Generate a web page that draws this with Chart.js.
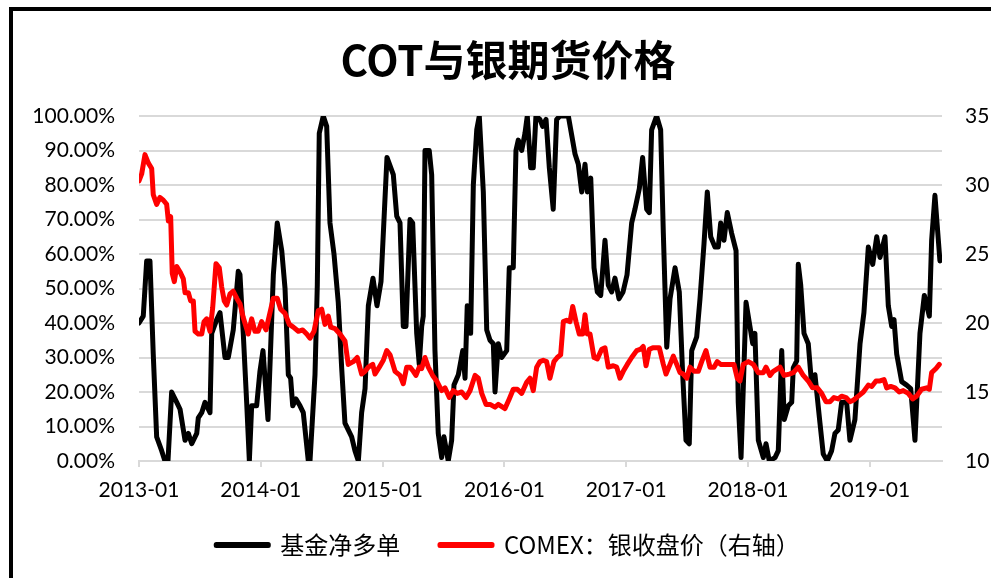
<!DOCTYPE html>
<html lang="zh">
<head>
<meta charset="UTF-8">
<title>COT与银期货价格</title>
<script src="https://cdn.jsdelivr.net/npm/chart.js@4.4.3/dist/chart.umd.min.js"></script>
<style>
    html, body { margin: 0; padding: 0; background: #fff; }
    #clip { position: absolute; left: 0; top: 0; width: 991px; height: 578px; overflow: hidden; background: #fff; }
    #frame { position: absolute; left: 9px; top: 7px; border: 4px solid #000; border-right: none; border-bottom: none; width: 1060px; height: 640px; }
    canvas { display: block; }
</style>
</head>
<body>
<div id="clip"><div id="frame"><canvas id="mychart" width="990" height="556"></canvas></div></div>
<script>
    // weekly readings, x as decimal year
    const cotDates = [
        2013.000, 2013.035, 2013.063, 2013.090, 2013.117, 2013.145, 2013.186, 2013.213, 2013.238, 2013.268,
        2013.310, 2013.337, 2013.378, 2013.405, 2013.433, 2013.474, 2013.487, 2013.515, 2013.542, 2013.583,
        2013.597, 2013.638, 2013.665, 2013.706, 2013.733, 2013.774, 2013.815, 2013.829, 2013.856, 2013.884,
        2013.906, 2013.925, 2013.966, 2013.993,
        2014.018, 2014.059, 2014.103, 2014.135, 2014.172, 2014.199, 2014.226, 2014.245, 2014.262, 2014.289,
        2014.322, 2014.349, 2014.390, 2014.404, 2014.445, 2014.464, 2014.480, 2014.513, 2014.541, 2014.568,
        2014.601, 2014.636, 2014.664, 2014.691, 2014.718, 2014.746, 2014.773, 2014.801, 2014.828, 2014.856,
        2014.883, 2014.921, 2014.954, 2014.987,
        2015.036, 2015.088, 2015.116, 2015.143, 2015.170, 2015.192, 2015.225, 2015.247, 2015.280, 2015.301,
        2015.321, 2015.334, 2015.348, 2015.383, 2015.403, 2015.430, 2015.457, 2015.485, 2015.504, 2015.539,
        2015.567, 2015.586, 2015.622, 2015.658, 2015.677, 2015.695, 2015.723, 2015.745, 2015.773, 2015.794,
        2015.827, 2015.855, 2015.882, 2015.909, 2015.923, 2015.950, 2015.978,
        2016.019, 2016.040, 2016.073, 2016.095, 2016.114, 2016.142, 2016.169, 2016.188, 2016.216, 2016.237,
        2016.259, 2016.292, 2016.314, 2016.342, 2016.369, 2016.401, 2016.429, 2016.456, 2016.525, 2016.580,
        2016.607, 2016.635, 2016.662, 2016.681, 2016.709, 2016.736, 2016.763, 2016.791, 2016.826, 2016.853,
        2016.881, 2016.908, 2016.941, 2016.974,
        2017.007, 2017.045, 2017.072, 2017.108, 2017.135, 2017.168, 2017.190, 2017.209, 2017.250, 2017.283,
        2017.305, 2017.333, 2017.360, 2017.401, 2017.436, 2017.464, 2017.491, 2017.518, 2017.538, 2017.579,
        2017.606, 2017.639, 2017.666, 2017.694, 2017.729, 2017.756, 2017.776, 2017.803, 2017.830, 2017.866,
        2017.902, 2017.920, 2017.943, 2017.984,
        2018.016, 2018.039, 2018.057, 2018.085, 2018.126, 2018.148, 2018.175, 2018.222, 2018.249, 2018.277,
        2018.298, 2018.331, 2018.359, 2018.372, 2018.400, 2018.413, 2018.433, 2018.460, 2018.495, 2018.523,
        2018.550, 2018.591, 2018.618, 2018.651, 2018.687, 2018.714, 2018.741, 2018.769, 2018.810, 2018.837,
        2018.878, 2018.920, 2018.952, 2018.988,
        2019.024, 2019.057, 2019.084, 2019.125, 2019.152, 2019.180, 2019.199, 2019.221, 2019.262, 2019.303,
        2019.336, 2019.371, 2019.412, 2019.448, 2019.489, 2019.508, 2019.535, 2019.576
    ];
    const cotValues = [
        40, 42, 58, 58, 31, 7, 3, 0, 0, 20,
        17, 15, 6, 8, 5, 8, 12.5, 14, 17, 14,
        37, 41, 43, 30, 30, 38, 55, 54, 37, 17,
        0, 16, 16, 26,
        32, 12, 54, 69, 61, 50, 25, 24, 16, 18,
        16, 14, 0, 0, 25, 51, 95, 100, 97, 69,
        60, 46, 27, 11, 9, 7, 3, 0, 14, 21,
        45, 53, 45, 52,
        88, 83, 71, 69, 39, 39, 70, 69, 37, 28,
        39, 42, 90, 90, 83, 32, 8, 1, 7, 0,
        6, 22, 25, 32, 24, 45, 37, 80, 96, 100,
        78, 38, 35, 34, 20, 34, 30,
        32, 56, 56, 90, 93, 90, 95, 100, 85, 85,
        100, 99, 97, 99, 85, 73, 99, 100, 100, 89,
        86, 78, 86, 78, 82, 56, 49, 48, 64, 51,
        49, 53, 47, 49,
        54, 69, 73, 79, 88, 73, 72, 96, 100, 96,
        66, 33, 47, 56, 49, 25, 6, 5, 32, 36,
        47, 63, 78, 65, 62, 62, 69, 64, 72, 66,
        61, 17, 1, 46,
        39, 34, 37, 6, 1, 5, 0, 1, 3, 32,
        12, 16, 17, 27, 29, 57, 51, 37, 34, 22,
        25, 11, 2, 0, 3, 8, 9, 17, 17, 6,
        12, 34, 43, 62,
        57, 65, 59, 65, 45, 39, 41, 31, 23, 22,
        21, 6, 37, 48, 42, 64, 77, 58
    ];

    const silverDates = [
        2013.000, 2013.022, 2013.049, 2013.076, 2013.104, 2013.117, 2013.145, 2013.172, 2013.200, 2013.227,
        2013.241, 2013.260, 2013.273, 2013.290, 2013.310, 2013.337, 2013.364, 2013.378, 2013.405, 2013.424,
        2013.446, 2013.460, 2013.487, 2013.515, 2013.534, 2013.556, 2013.583, 2013.605, 2013.632, 2013.659,
        2013.679, 2013.700, 2013.720, 2013.747, 2013.774, 2013.802, 2013.829, 2013.856, 2013.897, 2013.925,
        2013.952, 2013.979,
        2014.007, 2014.043, 2014.103, 2014.135, 2014.163, 2014.199, 2014.234, 2014.267, 2014.308, 2014.344,
        2014.377, 2014.404, 2014.437, 2014.472, 2014.500, 2014.527, 2014.554, 2014.574, 2014.609, 2014.650,
        2014.691, 2014.718, 2014.759, 2014.792, 2014.828, 2014.856, 2014.883, 2014.919, 2014.938, 2014.973,
        2015.006, 2015.034, 2015.061, 2015.102, 2015.143, 2015.170, 2015.198, 2015.225, 2015.252, 2015.274,
        2015.301, 2015.321, 2015.348, 2015.375, 2015.411, 2015.444, 2015.485, 2015.512, 2015.548, 2015.580,
        2015.613, 2015.649, 2015.685, 2015.718, 2015.759, 2015.786, 2015.814, 2015.849, 2015.882, 2015.923,
        2015.950,
        2016.005, 2016.040, 2016.073, 2016.106, 2016.142, 2016.183, 2016.210, 2016.237, 2016.265, 2016.292,
        2016.319, 2016.347, 2016.374, 2016.407, 2016.434, 2016.462, 2016.484, 2016.511, 2016.539, 2016.561,
        2016.588, 2016.615, 2016.643, 2016.662, 2016.681, 2016.703, 2016.736, 2016.763, 2016.799, 2016.826,
        2016.853, 2016.894, 2016.922, 2016.949, 2016.976,
        2017.009, 2017.045, 2017.086, 2017.119, 2017.140, 2017.163, 2017.190, 2017.218, 2017.272, 2017.305,
        2017.327, 2017.360, 2017.387, 2017.415, 2017.442, 2017.469, 2017.497, 2017.524, 2017.557, 2017.592,
        2017.620, 2017.655, 2017.688, 2017.721, 2017.748, 2017.776, 2017.811, 2017.852, 2017.885, 2017.912,
        2017.934, 2017.961,
        2018.003, 2018.044, 2018.085, 2018.126, 2018.148, 2018.181, 2018.208, 2018.263, 2018.296, 2018.339,
        2018.372, 2018.413, 2018.454, 2018.495, 2018.531, 2018.569, 2018.605, 2018.640, 2018.673, 2018.706,
        2018.741, 2018.769, 2018.805, 2018.837, 2018.865, 2018.906, 2018.947, 2018.988,
        2019.016, 2019.051, 2019.084, 2019.117, 2019.139, 2019.172, 2019.207, 2019.242, 2019.275, 2019.316,
        2019.352, 2019.385, 2019.426, 2019.467, 2019.489, 2019.508, 2019.544, 2019.571
    ];
    const silverValues = [
        30.3, 30.8, 32.2, 31.6, 31.2, 29.3, 28.6, 29.1, 28.9, 28.6,
        27.4, 27.7, 23.6, 23.0, 24.1, 23.7, 23.2, 22.2, 22.2, 21.6,
        21.6, 19.4, 19.2, 19.2, 20.1, 20.3, 19.4, 21.1, 24.3, 24.0,
        22.6, 21.6, 21.3, 22.1, 22.3, 21.8, 21.4, 20.4, 19.2, 20.3,
        19.4, 19.4,
        20.1, 19.5, 21.8, 21.8, 21.0, 20.7, 19.9, 19.7, 19.4, 19.5,
        19.2, 18.9, 19.4, 20.9, 21.0, 19.9, 20.5, 19.7, 19.6, 19.2,
        18.7, 17.0, 17.2, 17.5, 16.3, 16.5, 16.8, 17.0, 16.3, 16.8,
        17.3, 18.0, 17.7, 16.5, 16.2, 15.6, 16.8, 16.8, 16.5, 16.2,
        16.8, 16.7, 17.5, 16.8, 16.2, 15.8, 15.1, 15.3, 14.6, 15.1,
        14.9, 15.0, 14.6, 15.1, 16.2, 16.0, 14.9, 14.1, 14.1, 13.9,
        14.1,
        13.8, 14.5, 15.2, 15.2, 14.9, 15.7, 16.0, 15.1, 16.8, 17.2,
        17.3, 17.2, 16.0, 17.2, 17.5, 17.7, 20.1, 20.2, 20.1, 21.2,
        20.1, 19.2, 19.2, 20.6, 19.2, 19.2, 17.5, 17.4, 18.1, 18.2,
        16.8, 16.9, 16.8, 16.0, 16.5,
        17.0, 17.5, 18.0, 18.1, 18.3, 16.9, 18.1, 18.2, 18.2, 17.0,
        16.3, 17.0, 17.6, 17.0, 16.4, 16.3, 16.0, 16.8, 16.5, 16.5,
        17.2, 18.0, 16.8, 16.8, 17.2, 17.0, 17.0, 17.0, 17.0, 16.0,
        15.8, 17.0,
        17.2, 17.0, 16.4, 16.4, 16.8, 16.2, 16.5, 16.8, 16.2, 16.3,
        16.4, 16.8, 16.2, 15.8, 15.3, 15.3, 14.9, 14.3, 14.3, 14.6,
        14.5, 14.7, 14.6, 14.3, 14.4, 14.7, 15.0, 15.5,
        15.4, 15.8, 15.8, 15.9, 15.3, 15.4, 15.3, 15.0, 15.1, 14.9,
        14.5, 14.7, 15.2, 15.3, 15.2, 16.4, 16.7, 17.0
    ];

    const xTickLabels = ['2013-01', '2014-01', '2015-01', '2016-01', '2017-01', '2018-01', '2019-01'];
    const firstYear = 2013;
    const lastDate = 2019.593;

    const tickFont = { family: 'Lato, "Noto Sans CJK SC", sans-serif', size: 21 };

    var data = {
        datasets: [
            {
                label: '基金净多单',
                data: cotDates.map((d, i) => ({ x: d, y: cotValues[i] })),
                borderColor: '#000000',
                backgroundColor: '#000000',
                borderWidth: 5,
                yAxisID: 'y',
                order: 1
            },
            {
                label: 'COMEX：银收盘价（右轴）',
                data: silverDates.map((d, i) => ({ x: d, y: silverValues[i] })),
                borderColor: '#ff0000',
                backgroundColor: '#ff0000',
                borderWidth: 5,
                yAxisID: 'y1',
                order: 0
            }
        ]
    };

    // keep black first in the legend and leave a wider gap after it
    function legendItems(chart) {
        const items = Chart.defaults.plugins.legend.labels.generateLabels(chart);
        items.sort((a, b) => a.datasetIndex - b.datasetIndex);
        items[0].text = items[0].text + '  ';
        return items;
    }

    var config = {
        type: 'line',
        data: data,
        options: {
            responsive: false,
            animation: false,
            layout: { padding: 0 },
            elements: {
                point: { radius: 0 },
                line: { tension: 0, borderJoinStyle: 'round', borderCapStyle: 'round' }
            },
            scales: {
                x: {
                    type: 'linear',
                    min: firstYear,
                    max: lastDate,
                    afterFit: (s) => { s.height = 43; },
                    grid: { drawOnChartArea: false, drawTicks: true, tickLength: 6, color: '#d9d9d9', lineWidth: 2 },
                    border: { color: '#d9d9d9', width: 2 },
                    ticks: {
                        stepSize: 1,
                        includeBounds: false,
                        autoSkip: false,
                        maxRotation: 0,
                        padding: 11,
                        color: '#000',
                        font: tickFont,
                        callback: (v) => xTickLabels[v - firstYear] || ''
                    }
                },
                y: {
                    position: 'left',
                    min: 0,
                    max: 100,
                    afterFit: (s) => { s.width = 126; },
                    grid: { color: '#d9d9d9', lineWidth: 2, drawTicks: false },
                    border: { display: false },
                    ticks: {
                        stepSize: 10,
                        padding: 24,
                        color: '#000',
                        font: tickFont,
                        callback: (v) => v.toFixed(2) + '%'
                    }
                },
                y1: {
                    position: 'right',
                    min: 10,
                    max: 35,
                    afterFit: (s) => { s.width = 61; },
                    grid: { drawOnChartArea: false, drawTicks: false },
                    border: { display: false },
                    ticks: {
                        stepSize: 5,
                        padding: 23,
                        color: '#000',
                        font: tickFont
                    }
                }
            },
            plugins: {
                title: {
                    display: true,
                    text: 'COT与银期货价格',
                    color: '#000',
                    font: { family: '"Noto Sans CJK SC", sans-serif', size: 42, weight: 'bold', lineHeight: 1.2 },
                    padding: { top: 24, bottom: 30.6 }
                },
                legend: {
                    display: true,
                    position: 'bottom',
                    labels: {
                        boxWidth: 52,
                        boxHeight: 1,
                        padding: 29,
                        color: '#000',
                        font: { family: '"Noto Sans CJK SC", sans-serif', size: 24 },
                        generateLabels: legendItems
                    }
                },
                tooltip: { enabled: false }
            }
        }
    };

    var mychart = new Chart(document.getElementById('mychart'), config);
</script>
</body>
</html>
